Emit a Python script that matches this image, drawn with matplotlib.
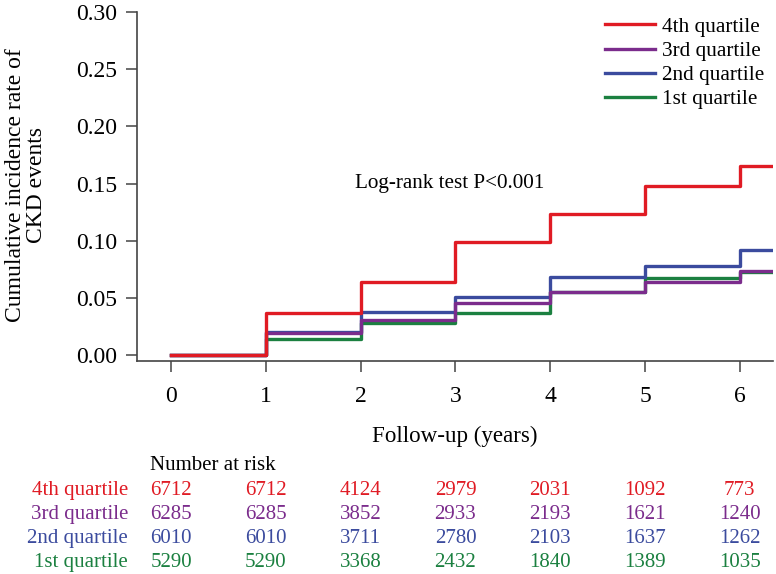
import matplotlib
matplotlib.use("Agg")
import matplotlib.pyplot as plt
from matplotlib import transforms

plt.rcParams['font.family'] = ['Liberation Serif', 'DejaVu Serif']

# follow-up time points (years); last point is end of follow-up window
times = [0, 1, 2, 3, 4, 5, 6, 6.35]

groups = ["4th quartile", "3rd quartile", "2nd quartile", "1st quartile"]
colors = ["#e01b24", "#7b2c8c", "#3b4b9e", "#1b8040"]

# cumulative incidence
q4 = [0.0, 0.0365, 0.0635, 0.099, 0.1235, 0.1475, 0.1655, 0.1655]
q3 = [0.0, 0.019, 0.031, 0.0455, 0.055, 0.064, 0.0735, 0.0735]
q2 = [0.0, 0.0205, 0.038, 0.0505, 0.0685, 0.078, 0.092, 0.092]
q1 = [0.0, 0.014, 0.028, 0.0365, 0.055, 0.067, 0.073, 0.073]

risk_times = [0, 1, 2, 3, 4, 5, 6]
risk_q4 = [6712, 6712, 4124, 2979, 2031, 1092, 773]
risk_q3 = [6285, 6285, 3852, 2933, 2193, 1621, 1240]
risk_q2 = [6010, 6010, 3711, 2780, 2103, 1637, 1262]
risk_q1 = [5290, 5290, 3368, 2432, 1840, 1389, 1035]

fig = plt.figure(figsize=(7.76, 5.74), dpi=100)
ax = fig.add_axes([137/776, 1 - 361/574, (773-137)/776, (361-12)/574])

lw = 2.4
ax.step(times, q1, where='post', color=colors[3], lw=lw, label=groups[3], zorder=2)
ax.step(times, q2, where='post', color=colors[2], lw=lw, label=groups[2], zorder=3)
ax.step(times, q3, where='post', color=colors[1], lw=lw, label=groups[1], zorder=4)
ax.step(times, q4, where='post', color=colors[0], lw=lw, label=groups[0], zorder=5)

ax.set_xlim(-0.36, 6.35)
ax.set_ylim(-0.0052, 0.30)
ax.set_xticks(risk_times)
ax.set_yticks([0, 0.05, 0.10, 0.15, 0.20, 0.25, 0.30])
ax.set_yticklabels(["0.00", "0.05", "0.10", "0.15", "0.20", "0.25", "0.30"])
for s in ["top", "right"]:
    ax.spines[s].set_visible(False)
for s in ["left", "bottom"]:
    ax.spines[s].set_color("#444444")
    ax.spines[s].set_linewidth(1.2)
ax.tick_params(axis='both', labelsize=17, length=8, width=1.1, color="#444444")
ax.tick_params(axis='y', pad=6)
ax.tick_params(axis='x', pad=10)

handles, labels = ax.get_legend_handles_labels()
order = [3, 2, 1, 0]
ax.legend([handles[i] for i in order], [labels[i] for i in order], loc='upper right',
          bbox_to_anchor=(1.0, 1.01), frameon=False, fontsize=15.3, handlelength=2.35,
          handletextpad=0.35, labelspacing=0.2, borderaxespad=0.0)

ax.text(1.94, 0.150, "Log-rank test P<0.001", fontsize=15.2, va='center', ha='left')

fig.text(455/776, 1 - 436/574, "Follow-up (years)", fontsize=16.6, ha='center', va='center')
fig.text(26/776, 1 - 185/574, "Cumulative incidence rate of\nCKD events", fontsize=17,
         rotation=90, ha='center', va='center', linespacing=1.0)

# number at risk table
trans = transforms.blended_transform_factory(ax.transData, fig.transFigure)
fig.text(150/776, 1 - 470/574, "Number at risk", fontsize=15, ha='left', va='baseline')
rows = [risk_q4, risk_q3, risk_q2, risk_q1]
row_base = [495, 519, 543, 567]
for name, col, vals, yy in zip(groups, colors, rows, row_base):
    yf = 1 - yy/574
    fig.text(128/776, yf, name, fontsize=15, ha='right', va='baseline', color=col)
    for t, v in zip(risk_times, vals):
        ax.text(t, yf, str(v), fontsize=15, ha='center', va='baseline', color=col,
                transform=trans, clip_on=False)

fig.savefig("out.png", dpi=100)
